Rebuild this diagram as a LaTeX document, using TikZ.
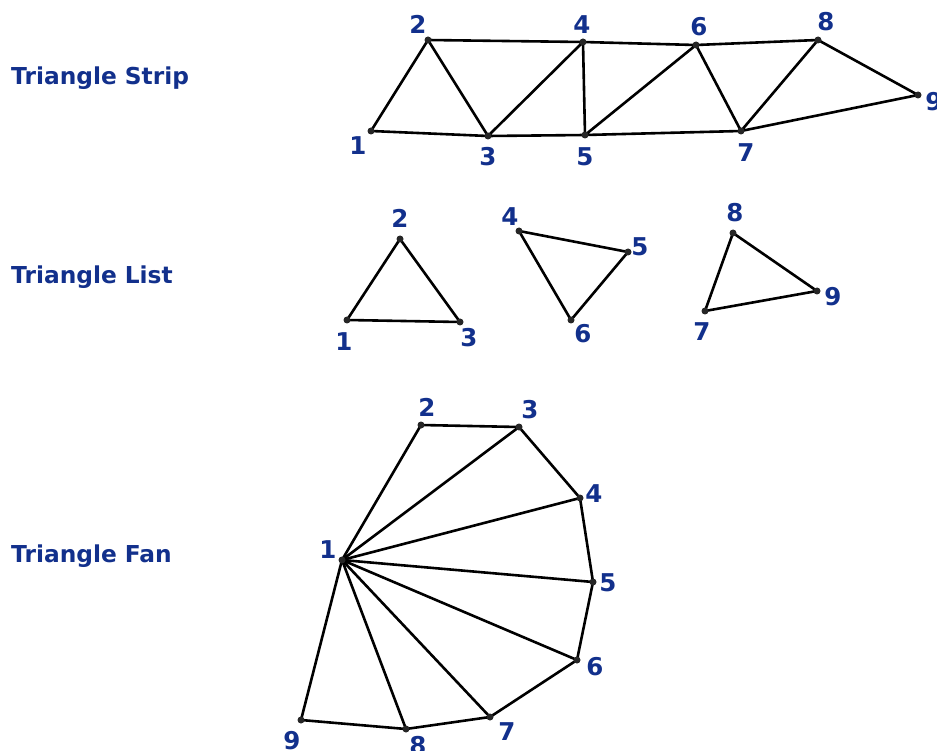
\documentclass[tikz,border=0pt]{standalone}
\usepackage{fontspec}
\setmainfont{DejaVu Sans}
\definecolor{lblblue}{RGB}{18,48,140}
\begin{document}
\begin{tikzpicture}[x=1pt,y=-1pt,
  edge/.style={line width=2.6pt,black,line cap=round,line join=round},
  title/.style={font=\fontsize{23.3}{26}\selectfont\bfseries,text=lblblue,anchor=west,inner sep=0pt},
  lbl/.style={font=\fontsize{24.5}{26}\selectfont\bfseries,text=lblblue,inner sep=0pt},
  vdot/.style={circle,fill=black!85,inner sep=0pt,minimum size=7pt}]
\useasboundingbox (0,0) rectangle (937,751);
% titles
\node[title] (tstrip) at (11,78) {Triangle Strip};
\node[title] (tlist) at (11,277) {Triangle List};
\node[title] (tfan) at (11,556) {Triangle Fan};
% ---------- strip ----------
\coordinate (s1) at (371,131);
\coordinate (s2) at (428,40);
\coordinate (s3) at (488,136);
\coordinate (s4) at (583,42);
\coordinate (s5) at (585,135);
\coordinate (s6) at (696,45);
\coordinate (s7) at (741,131);
\coordinate (s8) at (818,40);
\coordinate (s9) at (918,95);
\draw[edge] (s1)--(s2) (s2)--(s3) (s1)--(s3) (s2)--(s4) (s3)--(s4) (s3)--(s5)
  (s4)--(s5) (s4)--(s6) (s5)--(s6) (s5)--(s7) (s6)--(s7) (s6)--(s8)
  (s7)--(s8) (s8)--(s9) (s7)--(s9);
\foreach \v in {1,...,9} \node[vdot] (ds\v) at (s\v) {};
\node[lbl] (ls1) at (358,146) {1};
\node[lbl] (ls2) at (418,24) {2};
\node[lbl] (ls3) at (488,157) {3};
\node[lbl] (ls4) at (582,25) {4};
\node[lbl] (ls5) at (585,157) {5};
\node[lbl] (ls6) at (699,27) {6};
\node[lbl] (ls7) at (746,153) {7};
\node[lbl] (ls8) at (826,22) {8};
\node[lbl] (ls9) at (934,102) {9};
% ---------- list ----------
\coordinate (l1) at (347,320);
\coordinate (l2) at (400,239);
\coordinate (l3) at (460,322);
\coordinate (l4) at (519,231);
\coordinate (l5) at (628,252);
\coordinate (l6) at (571,320);
\coordinate (l7) at (705,311);
\coordinate (l8) at (733,233);
\coordinate (l9) at (817,291);
\draw[edge] (l1)--(l2)--(l3)--cycle;
\draw[edge] (l4)--(l5)--(l6)--cycle;
\draw[edge] (l7)--(l8)--(l9)--cycle;
\foreach \v in {1,...,9} \node[vdot] (dl\v) at (l\v) {};
\node[lbl] (ll1) at (344,342) {1};
\node[lbl] (ll2) at (400,218) {2};
\node[lbl] (ll3) at (469,338) {3};
\node[lbl] (ll4) at (510,217) {4};
\node[lbl] (ll5) at (640,247) {5};
\node[lbl] (ll6) at (583,334) {6};
\node[lbl] (ll7) at (702,332) {7};
\node[lbl] (ll8) at (735,213) {8};
\node[lbl] (ll9) at (833,297) {9};
% ---------- fan ----------
\coordinate (f1) at (342,560);
\coordinate (f2) at (421,425);
\coordinate (f3) at (519,427);
\coordinate (f4) at (580,498);
\coordinate (f5) at (593,582);
\coordinate (f6) at (577,660);
\coordinate (f7) at (490,717);
\coordinate (f8) at (406,729);
\coordinate (f9) at (301,720);
\draw[edge] (f2)--(f3)--(f4)--(f5)--(f6)--(f7)--(f8)--(f9);
\foreach \v in {2,...,9} \draw[edge] (f1)--(f\v);
\foreach \v in {1,...,9} \node[vdot] (df\v) at (f\v) {};
\node[lbl] (lf1) at (328,550) {1};
\node[lbl] (lf2) at (427,407) {2};
\node[lbl] (lf3) at (530,410) {3};
\node[lbl] (lf4) at (594,494) {4};
\node[lbl] (lf5) at (608,583) {5};
\node[lbl] (lf6) at (595,667) {6};
\node[lbl] (lf7) at (507,732) {7};
\node[lbl] (lf8) at (418,746) {8};
\node[lbl] (lf9) at (292,741) {9};
\end{tikzpicture}
\end{document}
